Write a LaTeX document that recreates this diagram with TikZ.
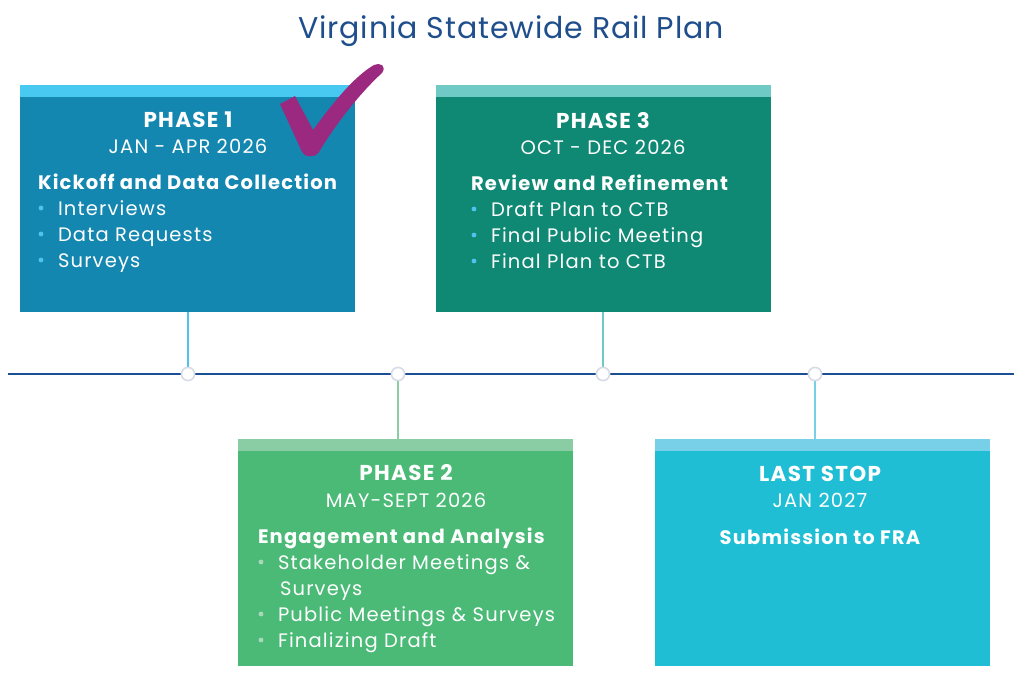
\documentclass[tikz,border=0pt]{standalone}
\usepackage{fontspec}
\setmainfont{Poppins}[LetterSpace=6]
\newfontfamily\titlefont{Poppins}[LetterSpace=3]
\usepackage{tikz}
\usetikzlibrary{positioning}

\definecolor{titleblue}{HTML}{1E4E8C}
\definecolor{lineblue}{HTML}{1B4F94}
\definecolor{dotgray}{HTML}{D8DCE6}
\definecolor{oneBody}{HTML}{1487B0}
\definecolor{oneBand}{HTML}{48C9F2}
\definecolor{twoBody}{HTML}{4ABA76}
\definecolor{twoBand}{HTML}{8ACCA3}
\definecolor{threeBody}{HTML}{0F8874}
\definecolor{threeBand}{HTML}{6FCAC6}
\definecolor{lastBody}{HTML}{20BED4}
\definecolor{lastBand}{HTML}{78CFE8}
\definecolor{skyDot}{HTML}{4CC4EE}
\definecolor{paleDot}{HTML}{A9D9B8}
\definecolor{checkPurple}{HTML}{9C2980}

\begin{document}
\begin{tikzpicture}[x=1pt,y=1pt]
                \tikzstyle{every node}+=[inner sep=0pt, outer sep=0pt]
                \tikzstyle{phasebox}=[rectangle, minimum width=335pt, minimum height=227pt, anchor=north west]
                \tikzstyle{phasename}=[text=white, font=\fontsize{21.5}{25}\selectfont\bfseries, anchor=base]
                \tikzstyle{phasedate}=[text=white, font=\fontsize{19.5}{23}\selectfont, anchor=base]
                \tikzstyle{phasehead}=[text=white, font=\fontsize{19.5}{23}\selectfont\bfseries, anchor=base west]
                \tikzstyle{item}=[text=white, font=\fontsize{19.5}{23}\selectfont, anchor=base west]
                \tikzstyle{stop}=[circle, draw=dotgray, fill=white, line width=1.5pt, minimum size=13pt]
                \useasboundingbox (0,0) rectangle (1024,-677);
                \fill [white] (0,0) rectangle (1024,-677);
                % title
                \node (title) [text=titleblue, font=\titlefont\fontsize{30}{35}\selectfont, anchor=base] at (511,-38) {Virginia Statewide Rail Plan};
                % timeline
                \coordinate (tl) at (8,-374);
                \coordinate (tr) at (1014,-374);
                \draw [lineblue, line width=2pt] (tl) -- (tr);
                \node (s1) [stop] at (188,-374) {};
                \node (s2) [stop] at (398,-374) {};
                \node (s3) [stop] at (603,-374) {};
                \node (s4) [stop] at (815,-374) {};
                % boxes
                \node (p1) [phasebox, fill=oneBody] at (20,-85) {};
                \fill [oneBand] (p1.north west) rectangle ([yshift=-12pt]p1.north east);
                \node (p3) [phasebox, fill=threeBody] at (436,-85) {};
                \fill [threeBand] (p3.north west) rectangle ([yshift=-12pt]p3.north east);
                \node (p2) [phasebox, fill=twoBody] at (238,-439) {};
                \fill [twoBand] (p2.north west) rectangle ([yshift=-12pt]p2.north east);
                \node (p4) [phasebox, fill=lastBody] at (655,-439) {};
                \fill [lastBand] (p4.north west) rectangle ([yshift=-12pt]p4.north east);
                % connectors
                \draw [skyDot, line width=1.5pt] (p1.south -| s1) -- (s1);
                \draw [threeBand, line width=1.5pt] (p3.south -| s3) -- (s3);
                \draw [twoBand, line width=1.5pt] (s2) -- (p2.north -| s2);
                \draw [lastBand, line width=1.5pt] (s4) -- (p4.north -| s4);
                \node (s1top) [stop] at (s1) {};
                \node (s2top) [stop] at (s2) {};
                \node (s3top) [stop] at (s3) {};
                \node (s4top) [stop] at (s4) {};
                % phase 1
                \node (n1) [phasename] at (188,-127) {PHASE 1};
                \node (d1) [phasedate] at (188,-153) {JAN - APR 2026};
                \node (h1) [phasehead] at (38,-189) {Kickoff and Data Collection};
                \fill [skyDot] (41,-208) circle (2.4);
                \node (a1) [item] at (58,-215) {Interviews};
                \fill [skyDot] (41,-234) circle (2.4);
                \node (a2) [item] at (58,-241) {Data Requests};
                \fill [skyDot] (41,-260) circle (2.4);
                \node (a3) [item] at (58,-267) {Surveys};
                % phase 3
                \node (n3) [phasename] at (603,-128) {PHASE 3};
                \node (d3) [phasedate] at (603,-154) {OCT - DEC 2026};
                \node (h3) [phasehead] at (471,-190) {Review and Refinement};
                \fill [skyDot] (474,-209) circle (2.4);
                \node (c1) [item] at (491,-216) {Draft Plan to CTB};
                \fill [skyDot] (474,-235) circle (2.4);
                \node (c2) [item] at (491,-242) {Final Public Meeting};
                \fill [skyDot] (474,-261) circle (2.4);
                \node (c3) [item] at (491,-268) {Final Plan to CTB};
                % phase 2
                \node (n2) [phasename] at (406,-480) {PHASE 2};
                \node (d2) [phasedate] at (406,-507) {MAY-SEPT 2026};
                \node (h2) [phasehead] at (258,-543) {Engagement and Analysis};
                \fill [paleDot] (261,-562) circle (2.4);
                \node (b1) [item] at (278,-569) {Stakeholder Meetings \&};
                \node (b2) [item] at (280,-595) {Surveys};
                \fill [paleDot] (261,-614) circle (2.4);
                \node (b3) [item] at (278,-621) {Public Meetings \& Surveys};
                \fill [paleDot] (261,-640) circle (2.4);
                \node (b4) [item] at (278,-647) {Finalizing Draft};
                % last stop
                \node (n4) [phasename] at (820,-481) {LAST STOP};
                \node (d4) [phasedate] at (820,-507) {JAN 2027};
                \node (h4) [phasehead, anchor=base] at (820,-544) {Submission to FRA};
                % check mark
                \fill [checkPurple] (280,-104) -- (295,-96) -- (313,-130)
                    .. controls (335,-100) and (355,-76) .. (374,-65)
                    .. controls (380,-62) and (387,-66) .. (382,-73)
                    .. controls (360,-93) and (335,-125) .. (319,-152)
                    .. controls (315,-158) and (305,-158) .. (302,-152) -- cycle;
\end{tikzpicture}
\end{document}
